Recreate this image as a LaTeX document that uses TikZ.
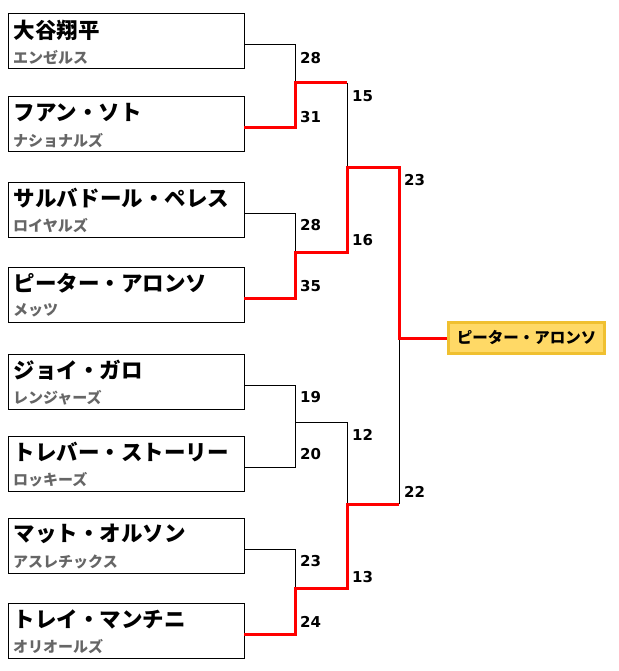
\documentclass[tikz,border=0pt]{standalone}
\usepackage{fontspec}
\newfontfamily\cjk{Noto Sans CJK JP}
\newfontfamily\numf{DejaVu Sans}
\definecolor{teamgray}{HTML}{666666}
\definecolor{winred}{HTML}{FF0000}
\definecolor{champfill}{HTML}{FFD966}
\definecolor{champdraw}{HTML}{F0C030}
\begin{document}
\begin{tikzpicture}[x=1pt,y=-1pt,
  player/.style={draw=black, line width=1pt, minimum width=236pt, minimum height=55pt, anchor=north west, inner sep=0pt, outer sep=0pt},
  pname/.style={anchor=west, inner sep=0pt, font=\cjk\bfseries\fontsize{21.5}{21.5}\selectfont, text=black},
  tname/.style={anchor=west, inner sep=0pt, font=\cjk\bfseries\fontsize{15}{15}\selectfont, text=teamgray},
  score/.style={anchor=west, inner sep=0pt, font=\numf\bfseries\fontsize{15}{15}\selectfont, text=black},
  loser/.style={draw=black, line width=1pt},
  winner/.style={draw=winred, line width=3pt},
  champ/.style={draw=champdraw, fill=champfill, line width=3pt, minimum width=156pt, minimum height=31pt, inner sep=0pt, font=\cjk\bfseries\fontsize{15.5}{15.5}\selectfont}
]
\useasboundingbox (0,0) rectangle (618,671);

% player boxes
\node[player] (b1) at (8,14) {};
\node[player] (b2) at (8,97) {};
\node[player] (b3) at (8,182) {};
\node[player] (b4) at (8,267) {};
\node[player] (b5) at (8,354) {};
\node[player] (b6) at (8,436) {};
\node[player] (b7) at (8,518) {};
\node[player] (b8) at (8,603) {};

% names
\node[pname] (n1) at (13.5,30) {大谷翔平};
\node[tname] (t1) at (13,57.5) {エンゼルス};
\node[pname] (n2) at (13.5,113) {フアン・ソト};
\node[tname] (t2) at (13,140.5) {ナショナルズ};
\node[pname] (n3) at (13.5,198) {サルバドール・ペレス};
\node[tname] (t3) at (13,225.5) {ロイヤルズ};
\node[pname] (n4) at (13.5,283) {ピーター・アロンソ};
\node[tname] (t4) at (13,310.5) {メッツ};
\node[pname] (n5) at (13.5,370.5) {ジョイ・ガロ};
\node[tname] (t5) at (13,397.5) {レンジャーズ};
\node[pname] (n6) at (13.5,452) {トレバー・ストーリー};
\node[tname] (t6) at (13,479.5) {ロッキーズ};
\node[pname] (n7) at (13.5,534) {マット・オルソン};
\node[tname] (t7) at (13,561.5) {アスレチックス};
\node[pname] (n8) at (13.5,619) {トレイ・マンチニ};
\node[tname] (t8) at (13,646.5) {オリオールズ};

% champion
\node[champ] (w) at (526.5,338) {ピーター・アロンソ};

% joints
\coordinate (j1) at (295,83);
\coordinate (j2) at (295,252);
\coordinate (j3) at (295,422);
\coordinate (j4) at (295,588);
\coordinate (k1) at (347,83);
\coordinate (k2) at (347,252);
\coordinate (k3) at (347,422);
\coordinate (k4) at (347,588);
\coordinate (s1) at (347,168);
\coordinate (s2) at (347,504);
\coordinate (f1) at (399,168);
\coordinate (f2) at (399,504);
\coordinate (fj) at (399,338);

% losing paths
\draw[loser] ([yshift=-3.5pt]b1.east) -| (j1);
\draw[loser] ([yshift=-3.5pt]b3.east) -| (j2);
\draw[loser] ([yshift=-3.5pt]b5.east) -| (j3);
\draw[loser] ([yshift=-3.5pt]b6.east) -| (j3);
\draw[loser] (j3) -- (k3) -- (s2);
\draw[loser] ([yshift=-3.5pt]b7.east) -| (j4);
\draw[loser] (k1) -- (s1);
\draw[loser] (f2) -- (fj);

% winning paths
\draw[winner] ([yshift=-3.5pt]b2.east) -| (j1) -- (k1);
\draw[winner] ([yshift=-3.5pt]b4.east) -| (j2) -- (k2) -- (s1) -- (f1) -- (fj) -- (w.west);
\draw[winner] ([yshift=-3.5pt]b8.east) -| (j4) -- (k4) -- (s2) -- (f2);

% scores
\node[score] (c1) at (300,58) {28};
\node[score] (c2) at (300,117) {31};
\node[score] (c3) at (300,225) {28};
\node[score] (c4) at (300,286) {35};
\node[score] (c5) at (300,397) {19};
\node[score] (c6) at (300,454) {20};
\node[score] (c7) at (300,561) {23};
\node[score] (c8) at (300,622) {24};
\node[score] (d1) at (352,96) {15};
\node[score] (d2) at (352,240) {16};
\node[score] (d3) at (352,435) {12};
\node[score] (d4) at (352,577) {13};
\node[score] (e1) at (404,180) {23};
\node[score] (e2) at (404,492) {22};
\end{tikzpicture}
\end{document}
